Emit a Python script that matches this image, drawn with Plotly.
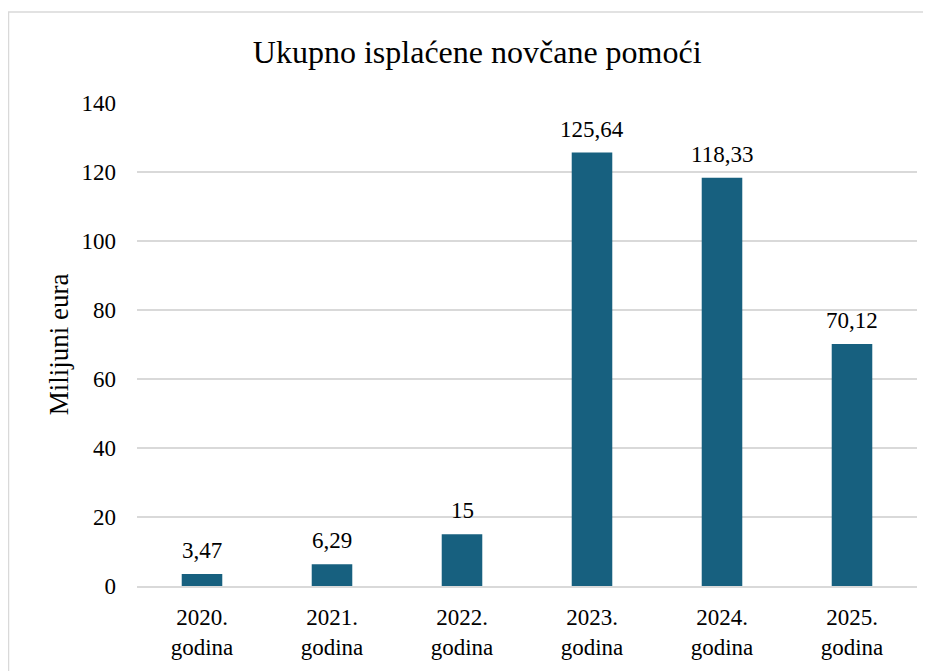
import plotly.graph_objects as go

categories = ["2020.<br>godina", "2021.<br>godina", "2022.<br>godina",
              "2023.<br>godina", "2024.<br>godina", "2025.<br>godina"]
values = [3.47, 6.29, 15, 125.64, 118.33, 70.12]
labels = [f"{v:g}".replace(".", ",") for v in values]
tick_vals = [0, 20, 40, 60, 80, 100, 120, 140]

FONT = "Liberation Serif, Times New Roman, serif"

fig = go.Figure(go.Bar(
    x=categories, y=values,
    marker=dict(color="#17607F", line=dict(width=0)),
    hoverinfo="x+y",
))

for c, v, t in zip(categories, values, labels):
    fig.add_annotation(x=c, y=v, text=t, showarrow=False, yanchor="bottom",
                       yshift=9, font=dict(family=FONT, size=23, color="#000"))

# Plot area in div coordinates (the page body adds an 8px offset)
L, T, B, R = 129, 95, 93, 22
PW = 931 - L - R
PH = 671 - T - B

fig.update_layout(
    width=931, height=671,
    margin=dict(l=L, r=R, t=T, b=B, autoexpand=False),
    paper_bgcolor="white", plot_bgcolor="white",
    bargap=0.688,
    title=dict(text="Ukupno isplaćene novčane pomoći", x=0.504, xanchor="center",
               y=0.935, yanchor="middle",
               font=dict(family=FONT, size=32, color="#000")),
    font=dict(family=FONT, size=23, color="#000"),
    showlegend=False,
    xaxis=dict(showgrid=False, showline=True, linecolor="#d9d9d9", linewidth=2,
               ticklabelstandoff=9,
               tickfont=dict(family=FONT, size=23, color="#000"), ticks=""),
    yaxis=dict(range=[0, 140], tickvals=tick_vals, showgrid=True,
               gridcolor="#d9d9d9", gridwidth=1.5, zeroline=False,
               ticks="", ticklen=0, ticklabelstandoff=20,
               tickfont=dict(family=FONT, size=23, color="#000"),
               title=dict(text="Milijuni eura", standoff=5,
                          font=dict(family=FONT, size=27, color="#000"))),
    shapes=[dict(type="rect", xref="paper", yref="paper",
                 x0=-(L - 0.5) / PW, x1=(931 - L + 10) / PW,
                 y0=-(B + 10) / PH, y1=(PH + T - 4) / PH,
                 line=dict(color="#d9d9d9", width=1.5), layer="below")],
)

fig.write_html("out.html")
